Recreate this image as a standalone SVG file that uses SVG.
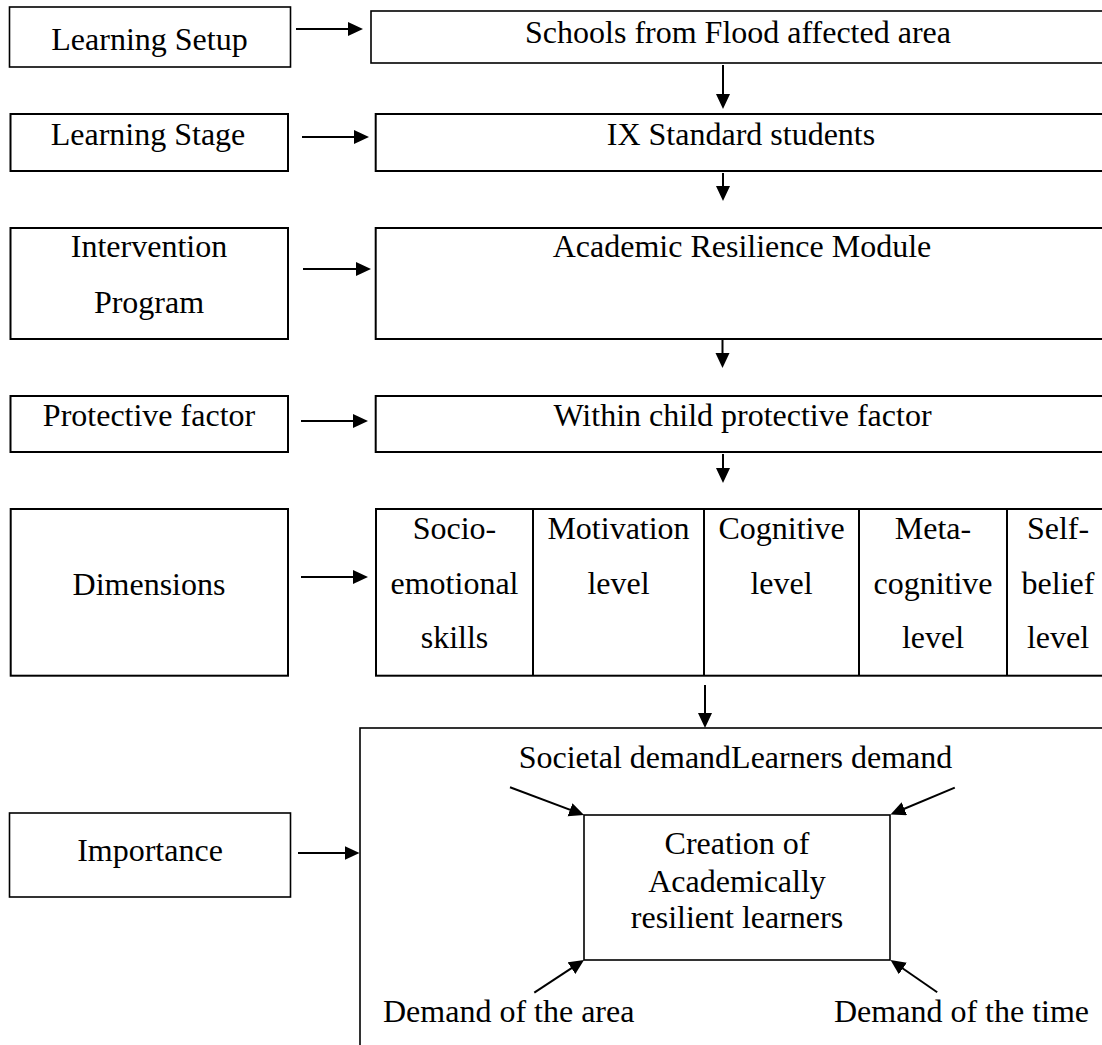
<svg xmlns="http://www.w3.org/2000/svg" width="1102" height="1045" viewBox="0 0 1102 1045">
<style>
  .box { fill: #fff; stroke: #000; stroke-width: 2; }
  .thin { fill: #fff; stroke: #000; stroke-width: 1.6; }
  .t { font-family: "Liberation Serif", "Times New Roman", serif; font-size: 32px; fill: #000; text-anchor: middle; }
  .ts { font-family: "Liberation Serif", "Times New Roman", serif; font-size: 32px; fill: #000; }
  .c { stroke: #000; stroke-width: 2; fill: none; marker-end: url(#ah); }
</style>
<defs>
  <marker id="ah" markerUnits="userSpaceOnUse" markerWidth="16" markerHeight="15" refX="11" refY="7" orient="auto">
    <path d="M0,0 L15,7 L0,14 z" fill="#000"/>
  </marker>
</defs>
<rect width="1102" height="1045" fill="#fff"/>

<g id="learning-setup"><rect class="thin" x="9.5" y="7" width="281" height="60"/><text class="t" x="149.5" y="50">Learning Setup</text></g>
<g id="schools"><rect class="thin" x="371" y="11" width="736" height="52"/><text class="t" x="738" y="43">Schools from Flood affected area</text></g>

<g id="learning-stage"><rect class="box" x="10.5" y="114" width="277.5" height="57"/><text class="t" x="148" y="145">Learning Stage</text></g>
<g id="ix-standard"><rect class="box" x="375.7" y="114" width="731" height="57"/><text class="t" x="741" y="145">IX Standard students</text></g>

<g id="intervention"><rect class="box" x="10.5" y="228" width="277.5" height="111"/><text class="t" x="149" y="257">Intervention</text><text class="t" x="149" y="313">Program</text></g>
<g id="arm"><rect class="box" x="375.7" y="228" width="731" height="111"/><text class="t" x="742" y="257">Academic Resilience Module</text></g>

<g id="protective"><rect class="box" x="10.5" y="396" width="277.5" height="56"/><text class="t" x="149" y="426">Protective factor</text></g>
<g id="within-child"><rect class="box" x="375.7" y="396" width="731" height="56"/><text class="t" x="742.5" y="426">Within child protective factor</text></g>

<g id="dimensions"><rect class="box" x="10.7" y="509" width="277.3" height="166.7"/><text class="t" x="149" y="595">Dimensions</text></g>
<g id="dimension-table">
  <rect class="box" x="376" y="509" width="733" height="166.7"/>
  <line x1="533" y1="509" x2="533" y2="675.7" stroke="#000" stroke-width="2"/>
  <line x1="704" y1="509" x2="704" y2="675.7" stroke="#000" stroke-width="2"/>
  <line x1="859" y1="509" x2="859" y2="675.7" stroke="#000" stroke-width="2"/>
  <line x1="1007" y1="509" x2="1007" y2="675.7" stroke="#000" stroke-width="2"/>
  <text class="t" x="454.5" y="539">Socio-</text><text class="t" x="454.5" y="594">emotional</text><text class="t" x="454.5" y="648">skills</text>
  <text class="t" x="618.5" y="539">Motivation</text><text class="t" x="618.5" y="594">level</text>
  <text class="t" x="781.5" y="539">Cognitive</text><text class="t" x="781.5" y="594">level</text>
  <text class="t" x="933" y="539">Meta-</text><text class="t" x="933" y="594">cognitive</text><text class="t" x="933" y="648">level</text>
  <text class="t" x="1058" y="539">Self-</text><text class="t" x="1058" y="594">belief</text><text class="t" x="1058" y="648">level</text>
</g>

<g id="importance"><rect class="thin" x="9.5" y="813" width="281" height="84"/><text class="t" x="150" y="861">Importance</text></g>
<g id="importance-panel">
  <rect class="thin" x="360" y="728" width="760" height="340"/>
  <text class="t" x="735.5" y="768">Societal demandLearners demand</text>
  <text class="ts" x="383" y="1022">Demand of the area</text>
  <text class="ts" x="834" y="1022">Demand of the time</text>
</g>
<g id="creation"><rect class="thin" x="584" y="815" width="306" height="145"/><text class="t" x="737" y="854">Creation of</text><text class="t" x="737" y="892">Academically</text><text class="t" x="737" y="928">resilient learners</text></g>

<g id="connectors">
  <line class="c" x1="296" y1="29" x2="359" y2="29"/>
  <line class="c" x1="302" y1="137" x2="365" y2="137"/>
  <line class="c" x1="303" y1="269" x2="367" y2="269"/>
  <line class="c" x1="301" y1="421" x2="364" y2="421"/>
  <line class="c" x1="301" y1="577" x2="364" y2="577"/>
  <line class="c" x1="298" y1="853" x2="355.5" y2="853"/>
  <line class="c" x1="723" y1="65" x2="723" y2="105"/>
  <line class="c" x1="723" y1="173" x2="723" y2="197"/>
  <line class="c" x1="722.5" y1="340" x2="722.5" y2="364"/>
  <line class="c" x1="723" y1="454" x2="723" y2="479"/>
  <line class="c" x1="705" y1="685" x2="705" y2="724"/>
  <line class="c" x1="510" y1="787.3" x2="580.3" y2="813.6"/>
  <line class="c" x1="534.3" y1="992.7" x2="580.7" y2="962.2"/>
  <line class="c" x1="954.8" y1="787.7" x2="894.2" y2="813"/>
  <line class="c" x1="937.2" y1="992.3" x2="893.8" y2="962.3"/>
</g>
</svg>
